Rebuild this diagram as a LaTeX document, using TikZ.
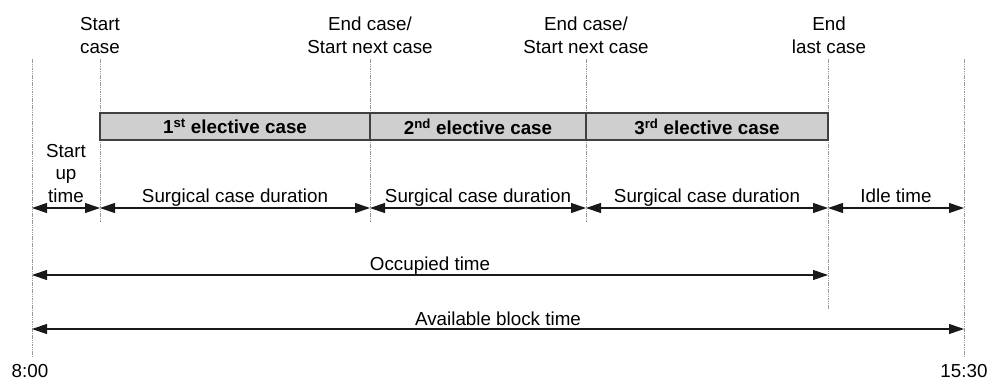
\documentclass[tikz,border=0pt]{standalone}
\usepackage{fontspec}
\setmainfont{Liberation Sans}
\usetikzlibrary{arrows.meta}
\tikzset{
  guide/.style={draw=gray!80, line width=0.6pt, dash pattern=on 1.5pt off 0.8pt},
  span/.style={line width=1.1pt, draw=black!90, {Triangle[length=15pt,width=10pt]}-{Triangle[length=15pt,width=10pt]}},
  casebox/.style={draw=black!75, line width=1.3pt, fill=black!19},
  lbl/.style={font=\fontsize{18.8}{23}\selectfont, inner sep=0pt, anchor=base, align=center},
  blbl/.style={font=\fontsize{18.8}{23}\selectfont\bfseries, inner sep=0pt},
}
\begin{document}
\begin{tikzpicture}[x=1pt,y=-1pt]
\useasboundingbox (0,0) rectangle (1001,383);
% guide coordinates
\coordinate (g0a) at (32,59);  \coordinate (g0b) at (32,357);
\coordinate (g1a) at (100,59); \coordinate (g1b) at (100,222);
\coordinate (g2a) at (370,59); \coordinate (g2b) at (370,222);
\coordinate (g3a) at (586,59); \coordinate (g3b) at (586,222);
\coordinate (g4a) at (828,59); \coordinate (g4b) at (828,309);
\coordinate (g5a) at (964,59); \coordinate (g5b) at (964,357);
\coordinate (r0) at (32,208);
\coordinate (r1) at (100,208);
\coordinate (r2) at (370,208);
\coordinate (r3) at (586,208);
\coordinate (r4) at (828,208);
\coordinate (r5) at (964,208);
\draw[guide] (g0a) -- (g0b);
\draw[guide] (g1a) -- (g1b);
\draw[guide] (g2a) -- (g2b);
\draw[guide] (g3a) -- (g3b);
\draw[guide] (g4a) -- (g4b);
\draw[guide] (g5a) -- (g5b);
% case bar
\node[casebox, minimum width=270pt, minimum height=27pt, inner sep=0pt] (c1) at (235,126.5) {};
\node[casebox, minimum width=216pt, minimum height=27pt, inner sep=0pt] (c2) at (478,126.5) {};
\node[casebox, minimum width=242pt, minimum height=27pt, inner sep=0pt] (c3) at (707,126.5) {};
\node[blbl] (c1t) at (c1) {1\textsuperscript{st} elective case};
\node[blbl] (c2t) at (c2) {2\textsuperscript{nd} elective case};
\node[blbl] (c3t) at (c3) {3\textsuperscript{rd} elective case};
% top labels
\node[lbl] (l1) at (100,53) {Start\\case};
\node[lbl] (l2) at (370,53) {End case/\\Start next case};
\node[lbl] (l3) at (586,53) {End case/\\Start next case};
\node[lbl] (l4) at (829,53) {End\\last case};
% spans row
\draw[span] (r0) -- (r1);
\draw[span] (r1) -- (r2);
\draw[span] (r2) -- (r3);
\draw[span] (r3) -- (r4);
\draw[span] (r4) -- (r5);
\node[lbl] (su) at (66,202) {Start\\[-0.5pt]up\\[-0.5pt]time};
\node[lbl] (d1) at (235,202) {Surgical case duration};
\node[lbl] (d2) at (478,202) {Surgical case duration};
\node[lbl] (d3) at (707,202) {Surgical case duration};
\node[lbl] (it) at (896,202) {Idle time};
% occupied / available
\coordinate (o0) at (32,275);
\coordinate (o1) at (828,275);
\coordinate (a0) at (32,329);
\coordinate (a1) at (964,329);
\draw[span] (o0) -- (o1);
\draw[span] (a0) -- (a1);
\node[lbl] (ot) at (430,270) {Occupied time};
\node[lbl] (at) at (498,325) {Available block time};
\node[lbl] (s) at (30,377) {8:00};
\node[lbl] (e) at (964,377) {15:30};
\end{tikzpicture}
\end{document}
